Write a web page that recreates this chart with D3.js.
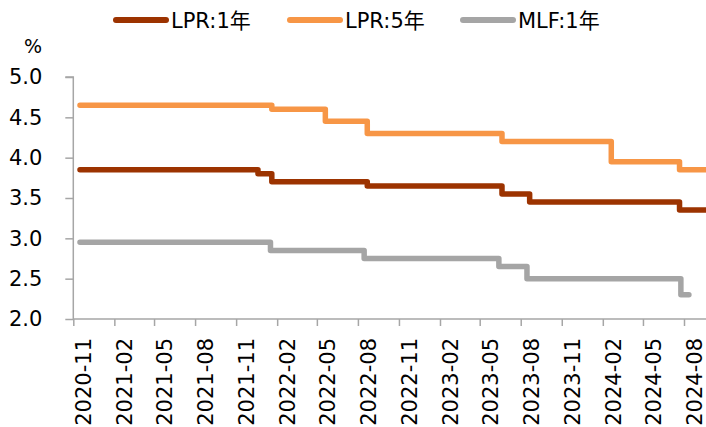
<!DOCTYPE html>
<html>
<head>
<meta charset="utf-8">
<script src="https://cdn.jsdelivr.net/npm/d3@7"></script>
<style>
  body { margin: 0; background: #fff; }
  svg { display: block; font-family: 'DejaVu Sans', 'Noto Sans CJK SC', sans-serif; }
</style>
</head>
<body>
<svg id="chart" width="706" height="427"></svg>
<script>
// Step series: [change date, rate]; last entry marks where the line stops
const lpr1Dates = ['2020-11-16', '2021-12-20', '2022-01-20', '2022-08-22', '2023-06-20', '2023-08-21', '2024-07-22', '2024-09-20'];
const lpr1Values = [3.85, 3.80, 3.70, 3.65, 3.55, 3.45, 3.35, 3.35];

const lpr5Dates = ['2020-11-16', '2022-01-20', '2022-05-20', '2022-08-22', '2023-06-20', '2024-02-20', '2024-07-22', '2024-09-20'];
const lpr5Values = [4.65, 4.60, 4.45, 4.30, 4.20, 3.95, 3.85, 3.85];

const mlfDates = ['2020-11-16', '2022-01-17', '2022-08-15', '2023-06-13', '2023-08-15', '2024-07-25', '2024-08-12'];
const mlfValues = [2.95, 2.85, 2.75, 2.65, 2.50, 2.30, 2.30];

const seriesNames = ['LPR:1年', 'LPR:5年', 'MLF:1年'];
const seriesColors = ['#9c3300', '#f79646', '#a5a5a5'];

const xTickLabels = ['2020-11', '2021-02', '2021-05', '2021-08', '2021-11', '2022-02', '2022-05', '2022-08',
  '2022-11', '2023-02', '2023-05', '2023-08', '2023-11', '2024-02', '2024-05', '2024-08'];
const yTicks = [2.0, 2.5, 3.0, 3.5, 4.0, 4.5, 5.0];

const parse = d3.timeParse('%Y-%m-%d');
const parseMonth = d3.timeParse('%Y-%m');

const svg = d3.select('#chart');
const axisColor = '#a6a6a6';
const fontFamily = "'DejaVu Sans', 'Noto Sans CJK SC', sans-serif";

const x = d3.scaleTime()
  .domain([parse('2020-11-01'), parse('2024-09-20')])
  .range([73.3, 706.3]);
const y = d3.scaleLinear()
  .domain([2, 5])
  .range([319, 77]);

// y axis
const yAxis = svg.append('g')
  .attr('transform', 'translate(73.3,0)')
  .call(d3.axisLeft(y).tickValues(yTicks).tickSize(8).tickPadding(0).tickFormat(d3.format('.1f')))
  .attr('font-family', fontFamily)
  .attr('font-size', 21);
yAxis.select('.domain').attr('stroke', axisColor).attr('stroke-width', 1.5)
  .attr('d', `M-8,${y(5)}H0V${y(2)}`);
yAxis.selectAll('.tick line').attr('stroke', axisColor).attr('stroke-width', 1.5);
yAxis.selectAll('.tick text')
  .attr('x', -31)
  .attr('fill', '#000');

// x axis
const xAxis = svg.append('g')
  .attr('transform', `translate(0,${y(2)})`)
  .call(d3.axisBottom(x).tickValues(xTickLabels.map(parseMonth)).tickSize(7).tickFormat(d3.timeFormat('%Y-%m')))
  .attr('font-family', fontFamily)
  .attr('font-size', 21);
xAxis.select('.domain').attr('stroke', axisColor).attr('stroke-width', 1.5)
  .attr('d', `M73.3,0H706`);
xAxis.selectAll('.tick line').attr('stroke', axisColor).attr('stroke-width', 1.5);
xAxis.selectAll('.tick text')
  .attr('fill', '#000')
  .attr('text-anchor', 'end')
  .attr('transform', 'rotate(-90)')
  .attr('x', -19)
  .attr('y', 10)
  .attr('dy', '0.36em');

// lines
const line = d3.line()
  .x(d => x(d[0]))
  .y(d => y(d[1]))
  .curve(d3.curveStepAfter);

const series = [
  lpr1Dates.map((d, i) => [parse(d), lpr1Values[i]]),
  lpr5Dates.map((d, i) => [parse(d), lpr5Values[i]]),
  mlfDates.map((d, i) => [parse(d), mlfValues[i]])
];

svg.append('g').selectAll('path')
  .data(series)
  .join('path')
  .attr('d', line)
  .attr('fill', 'none')
  .attr('stroke', (d, i) => seriesColors[i])
  .attr('stroke-width', 5.5)
  .attr('stroke-linejoin', 'round')
  .attr('stroke-linecap', 'round');

// legend
const legendX = [116, 290, 463];
const legend = svg.append('g').selectAll('g')
  .data(seriesNames)
  .join('g')
  .attr('transform', (d, i) => `translate(${legendX[i]},20)`);
legend.append('line')
  .attr('x1', 0).attr('x2', 50)
  .attr('stroke', (d, i) => seriesColors[i])
  .attr('stroke-width', 6)
  .attr('stroke-linecap', 'round');
legend.append('text')
  .attr('x', 55)
  .attr('dy', '0.36em')
  .style('font-size', '21px')
  .text(d => d);

// unit
svg.append('text')
  .attr('x', 24)
  .attr('y', 53)
  .style('font-size', '19px')
  .text('%');
</script>
</body>
</html>
